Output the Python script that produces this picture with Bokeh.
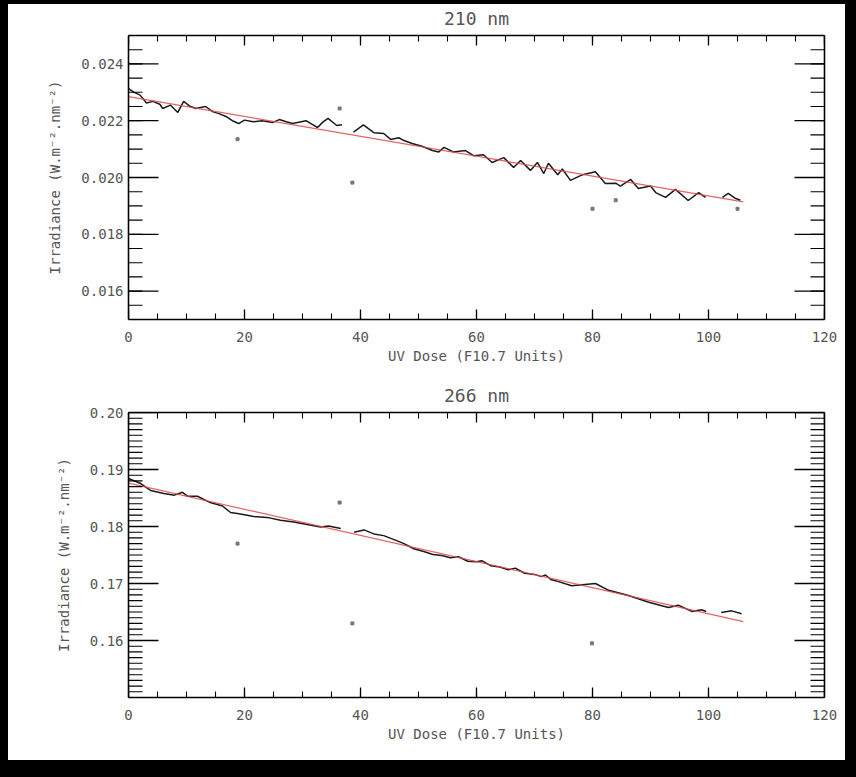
import math
from bokeh.plotting import figure
from bokeh.layouts import column
from bokeh.models import (FixedTicker, LinearAxis, PrintfTickFormatter, Range1d,
                          GlobalInlineStyleSheet)
from bokeh.embed import file_html
from bokeh.resources import INLINE

NaN = float("nan")

# ---------------- 210 nm panel ----------------
x210 = [0, 1, 2, 3.1, 4.2, 5.4, 5.9, 7.2, 8.5, 9.5, 10.5, 11.6, 13.3, 14.5, 15.6, 16.8,
        17.9, 19.0, 20.0, 21.5, 23.0, 24.9, 26.0, 27.2, 28.3, 30.6, 31.6, 32.6, 33.5,
        34.4, 35.9, 36.8, NaN, 38.8, 40.5, 42.3, 44.0, 45.2, 46.6, 47.5, 48.9, 50.6,
        52.4, 53.5, 54.4, 56.0, 58.1, 59.5, 61.2, 62.7, 64.7, 66.4, 67.6, 69.3, 70.5,
        71.6, 72.4, 74.0, 74.8, 76.2, 78.3, 80.5, 82.2, 84.0, 84.8, 86.6, 87.9, 90.0,
        90.9, 92.6, 94.3, 96.5, 98.3, 99.5, NaN, 102.4, 103.4, 104.7, 105.5]
y210 = [0.02313, 0.02300, 0.02290, 0.02262, 0.02268, 0.02258, 0.02243, 0.02255, 0.02229,
        0.02268, 0.02252, 0.02243, 0.02250, 0.02232, 0.02225, 0.02215, 0.02200, 0.02190,
        0.02202, 0.02196, 0.02200, 0.02194, 0.02204, 0.02196, 0.02190, 0.02200, 0.02188,
        0.02176, 0.02195, 0.02208, 0.02183, 0.02186, NaN, 0.02160, 0.02185, 0.02158,
        0.02155, 0.02134, 0.02140, 0.02130, 0.02120, 0.02110, 0.02095, 0.02090, 0.02106,
        0.02090, 0.02095, 0.02077, 0.02080, 0.02053, 0.02070, 0.02035, 0.02060, 0.02025,
        0.02053, 0.02014, 0.02050, 0.02010, 0.02030, 0.01990, 0.02010, 0.02020, 0.01979,
        0.01980, 0.01970, 0.01993, 0.01961, 0.01970, 0.01947, 0.01930, 0.01958, 0.01919,
        0.01947, 0.01930, NaN, 0.01930, 0.01944, 0.01926, 0.01920]
fit210_x = [0, 106]
fit210_y = [0.02285, 0.01914]
dots210_x = [18.8, 36.4, 38.6, 80.0, 84.0, 105.0]
dots210_y = [0.02135, 0.02243, 0.01982, 0.01890, 0.01920, 0.01890]

# ---------------- 266 nm panel ----------------
x266 = [0, 2.1, 3.8, 6.1, 7.9, 9.3, 10.2, 11.9, 14.1, 16.2, 17.6, 19.3, 21.6, 23.9, 26.2,
        28.5, 30.8, 33.1, 34.5, 36.6, NaN, 38.9, 40.6, 42.3, 44.0, 45.8, 47.5, 49.2, 50.9,
        52.5, 54.0, 55.5, 56.9, 58.5, 60.0, 60.9, 62.5, 64.0, 65.5, 66.7, 68.3, 70.0,
        71.2, 71.9, 72.8, 73.6, 76.4, 80.5, 82.8, 86.2, 89.7, 93.1, 94.8, 97.1, 98.8,
        99.6, NaN, 102.2, 104.0, 105.7]
y266 = [0.18842, 0.18754, 0.18632, 0.18580, 0.18550, 0.18600, 0.18530, 0.18530, 0.18420,
        0.18360, 0.18246, 0.18220, 0.18175, 0.18160, 0.18110, 0.18080, 0.18035, 0.17990,
        0.18010, 0.17965, NaN, 0.17900, 0.17940, 0.17870, 0.17840, 0.17770, 0.17700,
        0.17610, 0.17560, 0.17510, 0.17490, 0.17450, 0.17470, 0.17390, 0.17380, 0.17400,
        0.17310, 0.17290, 0.17240, 0.17270, 0.17180, 0.17160, 0.17120, 0.17150, 0.17070,
        0.17050, 0.16960, 0.17000, 0.16880, 0.16790, 0.16670, 0.16580, 0.16620, 0.16510,
        0.16540, 0.16510, NaN, 0.16490, 0.16520, 0.16470]
fit266_x = [0, 106]
fit266_y = [0.1876, 0.1633]
dots266_x = [18.8, 36.4, 38.6, 79.9]
dots266_y = [0.1770, 0.1842, 0.1630, 0.1595]

# ---------------- ticks ----------------
x_major = [0, 20, 40, 60, 80, 100, 120]
x_minor = [5 * i for i in range(25)]
y210_major = [0.016, 0.018, 0.020, 0.022, 0.024]
y210_minor = [round(0.015 + 0.0005 * i, 5) for i in range(21)]
y266_major = [0.16, 0.17, 0.18, 0.19, 0.20]
y266_minor = [round(0.15 + 0.001 * i, 4) for i in range(51)]

FONT = "DejaVu Sans Mono"
GREY = "#555555"
X_LO, X_HI = 0, 120


def style_axis(ax, ticker, fmt, show_labels):
    ax.ticker = ticker
    ax.formatter = PrintfTickFormatter(format=fmt)
    ax.axis_line_color = "black"
    ax.axis_line_width = 1.6
    ax.major_tick_line_color = None
    ax.minor_tick_line_color = None
    ax.major_tick_out = 0
    ax.minor_tick_out = 0
    ax.major_tick_in = 0
    ax.minor_tick_in = 0
    if show_labels:
        ax.major_label_text_font = FONT
        ax.major_label_text_font_size = "14px"
        ax.major_label_text_color = GREY
    else:
        ax.major_label_text_font_size = "0px"
        ax.major_label_standoff = 0
        ax.major_label_text_color = None


def inward_ticks(p, ymaj, ymin, ylo, yhi):
    # IDL-style tick marks inside the frame on all four sides;
    # the part of each dash outside the frame is clipped away
    tk = dict(marker="dash", line_color="black")
    for xv in (X_LO, X_HI):
        p.scatter([xv] * len(ymin), ymin, size=28, line_width=1.1, **tk)
        p.scatter([xv] * len(ymaj), ymaj, size=60, line_width=1.3, **tk)
    for yv in (ylo, yhi):
        p.scatter(x_minor, [yv] * len(x_minor), size=12, angle=math.pi / 2,
                  line_width=1.1, **tk)
        p.scatter(x_major, [yv] * len(x_major), size=20, angle=math.pi / 2,
                  line_width=1.3, **tk)


def make_panel(title, xs, ys, fx, fy, dx, dy, yr, ymaj, ymin, yfmt,
               top, frame_h, bottom):
    p = figure(x_range=Range1d(X_LO, X_HI), y_range=Range1d(*yr),
               frame_width=696, frame_height=frame_h,
               min_border_left=120, min_border_right=21,
               min_border_top=top, min_border_bottom=bottom,
               output_backend="svg", toolbar_location=None,
               background_fill_color="white", border_fill_color="white",
               outline_line_color=None)
    p.xgrid.visible = False
    p.ygrid.visible = False

    style_axis(p.xaxis[0], FixedTicker(ticks=x_major, minor_ticks=x_minor), "%d", True)
    style_axis(p.yaxis[0], FixedTicker(ticks=ymaj, minor_ticks=ymin), yfmt, True)
    p.xaxis[0].major_label_standoff = 12
    p.yaxis[0].major_label_standoff = 5

    p.xaxis[0].axis_label = "UV Dose (F10.7 Units)"
    p.xaxis[0].axis_label_text_font = FONT
    p.xaxis[0].axis_label_text_font_size = "14px"
    p.xaxis[0].axis_label_text_font_style = "normal"
    p.xaxis[0].axis_label_text_color = GREY
    p.xaxis[0].axis_label_standoff = 3

    p.yaxis[0].axis_label = "Irradiance (W.m\u207b\u00b2.nm\u207b\u00b2)"
    p.yaxis[0].axis_label_text_font = FONT
    p.yaxis[0].axis_label_text_font_size = "14px"
    p.yaxis[0].axis_label_text_font_style = "normal"
    p.yaxis[0].axis_label_text_color = GREY
    p.yaxis[0].axis_label_standoff = 15

    # top axis carries the panel title as its label
    top_ax = LinearAxis()
    style_axis(top_ax, FixedTicker(ticks=x_major, minor_ticks=x_minor), "%d", False)
    top_ax.axis_label = title
    top_ax.axis_label_text_font = FONT
    top_ax.axis_label_text_font_size = "18px"
    top_ax.axis_label_text_font_style = "normal"
    top_ax.axis_label_text_color = GREY
    top_ax.axis_label_standoff = 7
    p.add_layout(top_ax, "above")
    right_ax = LinearAxis()
    style_axis(right_ax, FixedTicker(ticks=ymaj, minor_ticks=ymin), yfmt, False)
    p.add_layout(right_ax, "right")

    p.line(xs, ys, line_color="#1a1a1a", line_width=1.5)
    p.line(fx, fy, line_color="#e04848", line_width=1.2, line_alpha=0.85)
    p.scatter(dx, dy, marker="square", size=3, color="#777777")
    inward_ticks(p, ymaj, ymin, yr[0], yr[1])
    return p


p1 = make_panel("210 nm", x210, y210, fit210_x, fit210_y, dots210_x, dots210_y,
                (0.015, 0.025), y210_major, y210_minor, "%.3f", 31, 284, 61)
p2 = make_panel("266 nm", x266, y266, fit266_x, fit266_y, dots266_x, dots266_y,
                (0.15, 0.20), y266_major, y266_minor, "%.2f", 32, 285, 63)

page_css = GlobalInlineStyleSheet(
    css="body { background: black; padding: 4px 0 0 8px; }")
p = column(p1, p2, spacing=0, styles={"background-color": "white"},
           stylesheets=[page_css])

open("out.html", "w").write(file_html(p, INLINE))
